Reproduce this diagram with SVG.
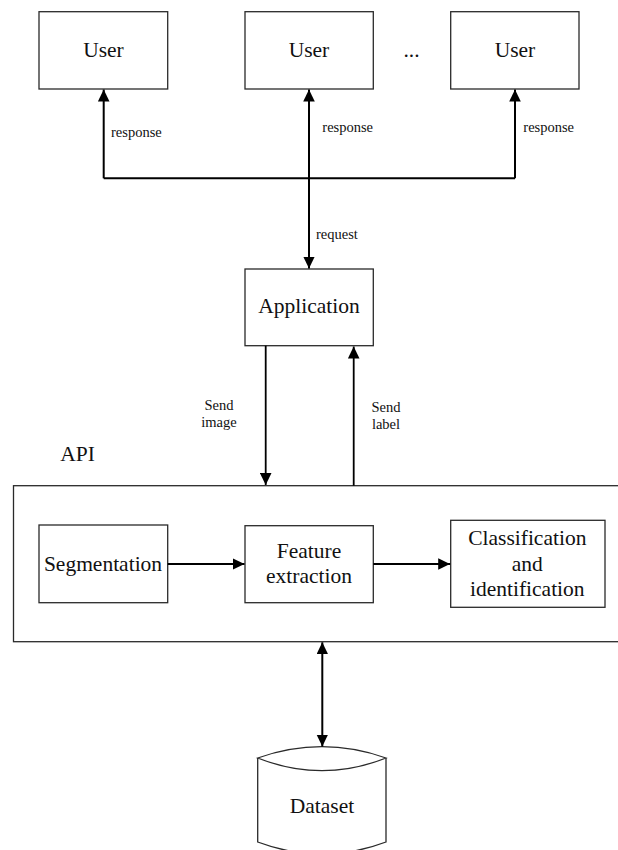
<svg xmlns="http://www.w3.org/2000/svg" width="618" height="850" viewBox="0 0 618 850">
<style>
.box{fill:#fff;stroke:#2a2a2a;stroke-width:1.3}
.big{font-size:21.5px;fill:#111;text-anchor:middle}
.lbl{font-size:14.5px;fill:#111}
.ar{fill:none;stroke:#000;stroke-width:2}
</style>
<defs>
<marker id="ah" markerUnits="userSpaceOnUse" markerWidth="12" markerHeight="12" refX="12" refY="5.8" orient="auto-start-reverse">
<path d="M0,0 L12,5.8 L0,11.6 z" fill="#000"/>
</marker>
</defs>
<rect width="618" height="850" fill="#fff"/>
<g font-family="Liberation Serif, Tinos, DejaVu Serif, serif">
<g id="api">
<rect class="box" x="13.5" y="485.7" width="620" height="156"/>
<text class="big" x="77.5" y="460.7">API</text>
</g>

<g id="user1">
<rect class="box" x="39" y="11.7" width="128.7" height="77.3"/>
<text class="big" x="103.5" y="57">User</text>
</g>
<g id="user2">
<rect class="box" x="245" y="11.7" width="128.3" height="77.3"/>
<text class="big" x="309" y="57">User</text>
</g>
<g id="ellipsis">
<text class="big" x="411.5" y="57">...</text>
</g>
<g id="user3">
<rect class="box" x="450.7" y="11.7" width="128.3" height="77.3"/>
<text class="big" x="515" y="57">User</text>
</g>

<g id="application">
<rect class="box" x="245" y="269" width="128.3" height="76.7"/>
<text class="big" x="309" y="313.3">Application</text>
</g>

<g id="segmentation">
<rect class="box" x="39" y="525" width="128.7" height="77.7"/>
<text class="big" x="103" y="570.7">Segmentation</text>
</g>
<g id="feature">
<rect class="box" x="245" y="525.7" width="128.3" height="77"/>
<text class="big" x="309" y="558.3">Feature</text>
<text class="big" x="309" y="583.3">extraction</text>
</g>
<g id="classification">
<rect class="box" x="450.7" y="520.3" width="154.3" height="87"/>
<text class="big" x="527.3" y="545">Classification</text>
<text class="big" x="527.3" y="570.5">and</text>
<text class="big" x="527.3" y="596">identification</text>
</g>

<g id="dataset">
<path class="box" d="M257.7,758 L257.7,842 Q322,866 386,842 L386,758"/>
<path class="box" d="M257.7,758 Q322,735.4 386,758 Q322,783.4 257.7,758 z"/>
<text class="big" x="322" y="813.3">Dataset</text>
</g>

<g id="connectors">
<path class="ar" d="M103.7,178.3 L515,178.3"/>
<path class="ar" d="M103.7,178.3 L103.7,89.5" marker-end="url(#ah)"/>
<path class="ar" d="M515,178.3 L515,89.5" marker-end="url(#ah)"/>
<path class="ar" d="M309,89.5 L309,268.5" marker-start="url(#ah)" marker-end="url(#ah)"/>
<path class="ar" d="M265.7,345.7 L265.7,485" marker-end="url(#ah)" style="stroke-width:1.8"/>
<path class="ar" d="M353.7,485.7 L353.7,346.5" marker-end="url(#ah)" style="stroke-width:1.8"/>
<path class="ar" d="M167.7,564 L244.5,564" marker-end="url(#ah)"/>
<path class="ar" d="M373.3,564 L450.2,564" marker-end="url(#ah)"/>
<path class="ar" d="M322.3,642.3 L322.3,746.5" marker-start="url(#ah)" marker-end="url(#ah)"/>
<text class="lbl" x="111" y="136.7">response</text>
<text class="lbl" x="322.3" y="131.7">response</text>
<text class="lbl" x="523.3" y="131.7">response</text>
<text class="lbl" x="316" y="239.3">request</text>
<text class="lbl" x="219" y="410" text-anchor="middle">Send</text>
<text class="lbl" x="219" y="426.7" text-anchor="middle">image</text>
<text class="lbl" x="386" y="412.3" text-anchor="middle">Send</text>
<text class="lbl" x="386" y="428.5" text-anchor="middle">label</text>
</g>
</g>
</svg>
